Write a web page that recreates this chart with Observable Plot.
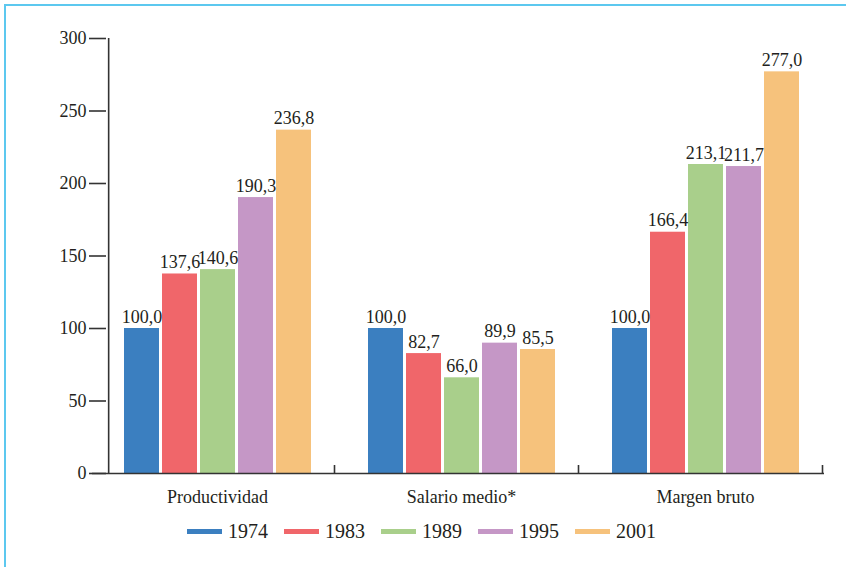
<!DOCTYPE html>
<html><head><meta charset="utf-8">
<script src="https://cdn.jsdelivr.net/npm/d3@7"></script>
<script src="https://cdn.jsdelivr.net/npm/@observablehq/plot@0.6"></script>
<style>
html,body{margin:0;padding:0;background:#fff;}
#wrap{position:relative;width:846px;height:567px;overflow:hidden;font-family:"Liberation Serif",serif;color:#231f20;}
#border{position:absolute;left:4px;top:4px;right:-10px;bottom:-10px;border-left:2px solid #5cc8ef;border-top:2px solid #5cc8ef;}
#chart{position:absolute;left:0;top:0;}
#legend{position:absolute;left:187px;top:517px;display:flex;align-items:center;font-size:20px;line-height:28px;}
#legend .item{display:flex;align-items:center;margin-right:16px;}
#legend .sw{display:inline-block;width:35px;height:5px;margin-right:6px;}
</style>
</head><body>
<div id="wrap"><div id="border"></div><div id="chart"></div><div id="legend"></div></div>
<script>
const groups = ["Productividad", "Salario medio*", "Margen bruto"];
const years = ["1974", "1983", "1989", "1995", "2001"];
const productividad = [100.0, 137.6, 140.6, 190.3, 236.8];
const salarioMedio = [100.0, 82.7, 66.0, 89.9, 85.5];
const margenBruto = [100.0, 166.4, 213.1, 211.7, 277.0];
const yTicks = [0, 50, 100, 150, 200, 250, 300];
const colors = ["#3b7fc0", "#f0666a", "#a9cf8b", "#c597c6", "#f6c27c"];

const series = [productividad, salarioMedio, margenBruto];
const data = [];
groups.forEach((g, i) => years.forEach((y, j) => data.push({group: g, year: y, value: series[i][j]})));
const fmt = v => v.toFixed(1).replace(".", ",");

const W = 846, ML = 94, MR = 18, AXIS_X = 105;
const pIn = 0.08, pOut = 0.677;
const facetW = (W - ML - MR) / groups.length;
const step = facetW / (years.length - pIn + 2 * pOut);
const halfBar = step * (1 - pIn) / 2;
const firstCenter = ML + step * pOut + halfBar;
const sepOffset = 40.5;
const ink = "#333";

const plot = Plot.plot({
  width: W, height: 513, marginLeft: ML, marginRight: MR, marginTop: 38, marginBottom: 40,
  style: {fontFamily: "Liberation Serif, serif", fontSize: "18px", color: "#231f20", background: "transparent"},
  fx: {domain: groups, padding: 0, label: null, axis: "bottom", tickSize: 0, tickPadding: 17},
  x: {domain: years, paddingInner: pIn, paddingOuter: pOut, axis: null},
  y: {domain: [0, 300], axis: null},
  color: {domain: years, range: colors},
  marks: [
    Plot.barY(data, {fx: "group", x: "year", y: "value", fill: "year"}),
    Plot.text(data, {fx: "group", x: "year", y: "value", text: d => fmt(d.value), lineAnchor: "bottom", dy: -6, fontSize: 18, fill: "#231f20"}),
    Plot.ruleY([0], {stroke: ink, strokeWidth: 1.6, dx: -3}),
    Plot.ruleX([{group: groups[0], year: years[0]}], {fx: "group", x: "year", y1: 0, y2: 300, dx: AXIS_X - firstCenter, stroke: ink, strokeWidth: 1.6}),
    Plot.ruleX(groups.map(g => ({group: g, year: years[years.length - 1]})), {fx: "group", x: "year", y1: 0, y2: 5.5, dx: sepOffset, stroke: ink, strokeWidth: 1.6}),
    Plot.axisY({ticks: yTicks, tickSize: 17, tickPadding: 3, fontSize: 18, label: null, stroke: ink, strokeWidth: 1.6, strokeOpacity: 1, dx: AXIS_X - ML, tickFormat: d => String(d)})
  ]
});
document.getElementById("chart").appendChild(plot);

const leg = document.getElementById("legend");
years.forEach((y, i) => {
  const it = document.createElement("div"); it.className = "item";
  const sw = document.createElement("span"); sw.className = "sw"; sw.style.background = colors[i];
  const lb = document.createElement("span"); lb.textContent = y;
  it.appendChild(sw); it.appendChild(lb); leg.appendChild(it);
});
</script>
</body></html>
